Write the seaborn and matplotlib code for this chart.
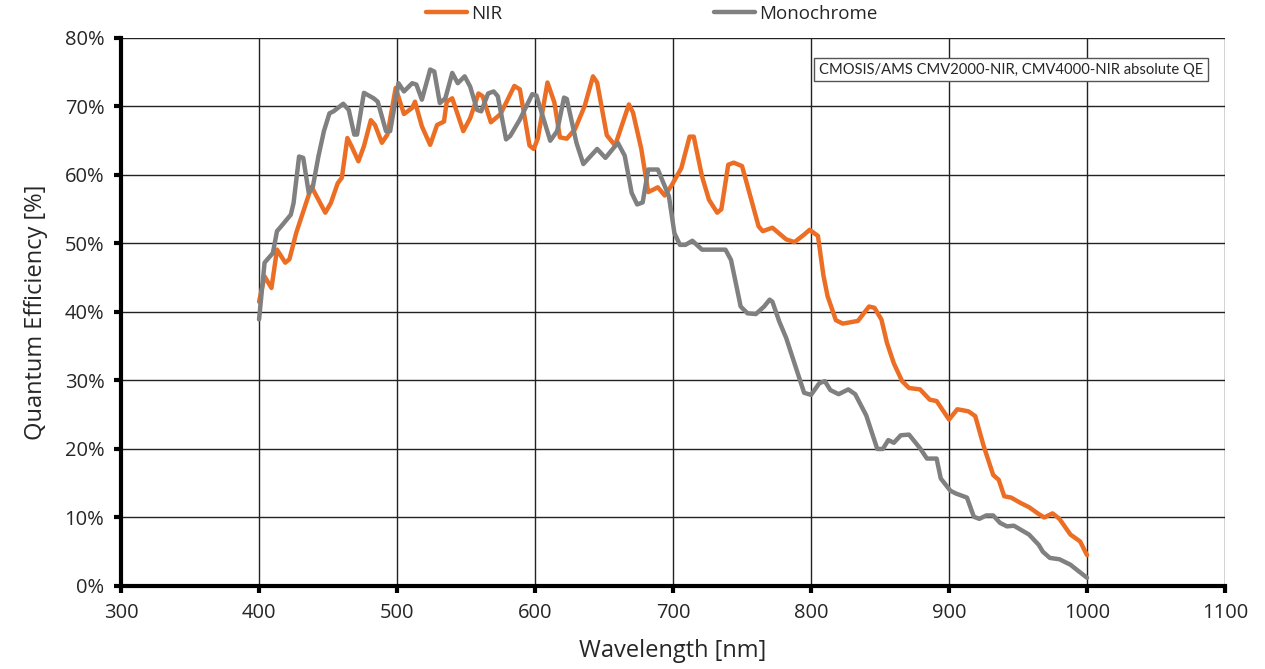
import pandas as pd
import matplotlib.pyplot as plt
import seaborn as sns
from matplotlib.ticker import PercentFormatter, MultipleLocator

# NIR curve (wavelength nm, QE %)
nir_nm = [400, 404, 409, 413, 419, 422, 427, 438, 448, 452, 457, 460, 464, 467, 472,
          476, 481, 484, 489, 493, 499, 505, 511, 513, 518, 524, 529, 534, 536, 540,
          548, 553, 559, 562, 568, 575, 585, 589, 596, 599, 602, 609, 614, 618, 623,
          629, 636, 642, 645, 652, 658, 668, 671, 677, 682, 689, 694, 699, 706, 712,
          715, 721, 726, 732, 735, 740, 744, 750, 756, 762, 765, 772, 782, 788, 795,
          799, 805, 809, 812, 818, 823, 834, 842, 846, 851, 855, 860, 866, 871, 879,
          886, 891, 900, 906, 914, 919, 925, 932, 936, 940, 945, 952, 958, 965, 969,
          975, 980, 988, 995, 1000]
nir_qe = [41.5, 45.2, 43.5, 49.1, 47.2, 47.7, 51.6, 58.3, 54.5, 55.9, 58.8, 59.6, 65.4, 64.2, 62.0,
          64.2, 68.0, 67.3, 64.7, 65.9, 72.7, 68.9, 69.8, 70.7, 67.1, 64.4, 67.3, 67.8, 70.7, 71.2,
          66.4, 68.3, 71.9, 71.5, 67.7, 68.9, 73.0, 72.5, 64.3, 63.8, 65.3, 73.5, 70.6, 65.5, 65.3,
          66.7, 70.1, 74.4, 73.5, 65.8, 64.3, 70.3, 69.1, 63.8, 57.5, 58.2, 57.0, 58.5, 61.0, 65.6,
          65.6, 59.8, 56.4, 54.5, 55.0, 61.5, 61.8, 61.3, 56.9, 52.5, 51.8, 52.3, 50.6, 50.2, 51.3,
          52.0, 51.1, 45.3, 42.3, 38.8, 38.3, 38.7, 40.8, 40.6, 38.9, 35.5, 32.5, 29.9, 28.9, 28.7,
          27.2, 27.0, 24.3, 25.8, 25.5, 24.8, 20.5, 16.2, 15.5, 13.1, 12.9, 12.1, 11.5, 10.5, 10.0,
          10.6, 9.8, 7.5, 6.5, 4.5]

# Monochrome curve
mono_nm = [400, 404, 410, 413, 416, 423, 425, 429, 432, 436, 439, 443, 447, 451, 454,
           461, 465, 469, 471, 476, 483, 486, 492, 495, 501, 505, 511, 514, 518, 524,
           527, 531, 535, 540, 544, 549, 553, 558, 561, 566, 570, 573, 579, 582, 589,
           598, 601, 611, 616, 621, 623, 630, 635, 645, 651, 660, 665, 670, 674, 678,
           682, 689, 697, 701, 705, 709, 714, 721, 738, 742, 745, 749, 754, 760, 766,
           770, 772, 777, 782, 788, 795, 800, 806, 810, 814, 820, 827, 832, 840, 848,
           852, 856, 860, 865, 871, 879, 884, 891, 894, 901, 905, 913, 918, 922, 927,
           932, 937, 942, 947, 958, 965, 968, 973, 980, 988, 993, 1000]
mono_qe = [38.9, 47.2, 48.6, 51.8, 52.5, 54.2, 55.9, 62.7, 62.5, 57.4, 58.3, 62.7, 66.4, 69.0, 69.3,
           70.4, 69.5, 65.9, 65.9, 72.0, 71.2, 70.7, 66.4, 66.4, 73.4, 72.2, 73.4, 73.2, 71.0, 75.4,
           75.1, 70.5, 71.2, 74.9, 73.4, 74.4, 72.9, 69.5, 69.3, 71.9, 72.2, 71.5, 65.2, 65.7, 68.1,
           71.8, 71.6, 65.0, 66.4, 71.3, 71.1, 64.7, 61.6, 63.8, 62.5, 64.7, 62.8, 57.4, 55.7, 56.0,
           60.8, 60.8, 56.9, 51.5, 49.8, 49.8, 50.4, 49.1, 49.1, 47.6, 44.7, 40.8, 39.8, 39.7, 40.8,
           41.8, 41.5, 38.6, 36.2, 32.5, 28.2, 27.9, 29.6, 29.9, 28.6, 28.0, 28.7, 28.0, 24.9, 20.0,
           20.0, 21.3, 20.9, 22.0, 22.1, 20.1, 18.6, 18.6, 15.7, 13.9, 13.5, 12.9, 10.1, 9.8, 10.3,
           10.3, 9.2, 8.7, 8.8, 7.5, 6.0, 5.0, 4.1, 3.9, 3.1, 2.3, 1.2]

df = pd.concat([
    pd.DataFrame({'Wavelength': nir_nm, 'QE': nir_qe, 'Sensor': 'NIR'}),
    pd.DataFrame({'Wavelength': mono_nm, 'QE': mono_qe, 'Sensor': 'Monochrome'}),
])

sns.set_theme(style="white")
plt.rcParams['font.family'] = ['Open Sans', 'DejaVu Sans']

fig, ax = plt.subplots(figsize=(12.65, 6.69), dpi=100)
fig.subplots_adjust(left=0.0957, right=0.9684, top=0.9432, bottom=0.1241)

sns.lineplot(data=df, x='Wavelength', y='QE', hue='Sensor', estimator=None, sort=False,
             palette={'NIR': '#EC6E24', 'Monochrome': '#808080'}, linewidth=3.2, ax=ax)

ax.set_xlim(300, 1100)
ax.set_ylim(0, 80)
ax.xaxis.set_major_locator(MultipleLocator(100))
ax.yaxis.set_major_locator(MultipleLocator(10))
ax.yaxis.set_major_formatter(PercentFormatter(decimals=0))
ax.grid(True, color='#222222', linewidth=1)
ax.set_axisbelow(True)

for s in ['top', 'right']:
    ax.spines[s].set_visible(False)
for s in ['left', 'bottom']:
    ax.spines[s].set_linewidth(3)
    ax.spines[s].set_color('black')
ax.tick_params(axis='both', direction='out', length=5, width=3, color='black',
               labelsize=14.5, left=True, bottom=True, pad=7)

ax.set_xlabel('Wavelength [nm]', fontsize=17, labelpad=12)
ax.set_ylabel('Quantum Efficiency [%]', fontsize=17, labelpad=12)

ax.text(0.98, 0.955, 'CMOSIS/AMS CMV2000-NIR, CMV4000-NIR absolute QE',
        transform=ax.transAxes, ha='right', va='top', fontsize=10.6, family='Lato',
        bbox=dict(boxstyle='square,pad=0.32', facecolor='white', edgecolor='#555555', linewidth=1))

handles, labels = ax.get_legend_handles_labels()
ax.legend_.remove()
fig.legend(handles, labels, loc='upper center', bbox_to_anchor=(0.515, 1.018), ncol=2,
           frameon=False, fontsize=13.5, handlelength=2.2, handletextpad=0.2,
           columnspacing=11.3)

plt.savefig('out.png', dpi=100)
